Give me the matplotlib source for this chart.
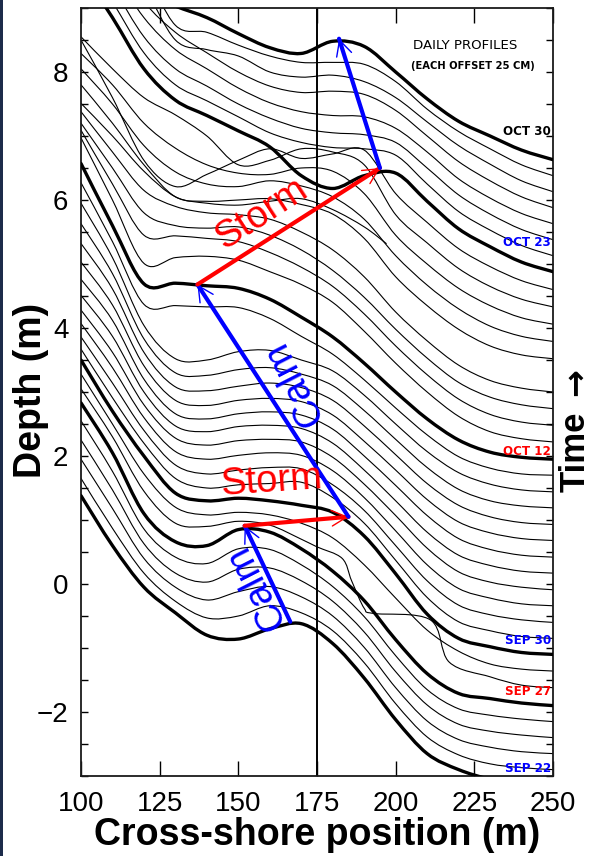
import numpy as np
import matplotlib
matplotlib.use("Agg")
import matplotlib.pyplot as plt
from matplotlib.patches import Rectangle, PathPatch
from matplotlib.path import Path

# ---------------- data ----------------
# cross-shore grid (m)
x_grid = [100, 110, 120, 130, 140, 150, 160, 170, 180, 190, 200, 210, 220, 230, 240, 250]
# daily profile dates (one per day, Sep 22 ... Oct 30)
dates = ["SEP 22", "SEP 23", "SEP 24", "SEP 25", "SEP 26", "SEP 27", "SEP 28", "SEP 29",
         "SEP 30", "OCT 1", "OCT 2", "OCT 3", "OCT 4", "OCT 5", "OCT 6", "OCT 7", "OCT 8",
         "OCT 9", "OCT 10", "OCT 11", "OCT 12", "OCT 13", "OCT 14", "OCT 15", "OCT 16",
         "OCT 17", "OCT 18", "OCT 19", "OCT 20", "OCT 21", "OCT 22", "OCT 23", "OCT 24",
         "OCT 25", "OCT 26", "OCT 27", "OCT 28", "OCT 29", "OCT 30"]
offset_per_day = 0.25  # m

# bed elevation (m) of each daily profile, before the 25 cm offset
sep22 = [1.38, 0.60, -0.05, -0.45, -0.80, -0.86, -0.70, -0.62, -0.93, -1.47, -2.12, -2.65, -2.90, -3.05, -3.12, -3.15]
sep23 = [1.40, 0.62, -0.08, -0.52, -0.78, -0.75, -0.59, -0.70, -0.98, -1.48, -2.12, -2.64, -2.92, -3.06, -3.12, -3.15]
sep24 = [1.45, 0.68, -0.10, -0.55, -0.75, -0.62, -0.54, -0.70, -1.00, -1.49, -2.12, -2.64, -2.93, -3.05, -3.12, -3.15]
sep25 = [1.50, 0.72, -0.12, -0.58, -0.72, -0.52, -0.50, -0.70, -1.02, -1.50, -2.12, -2.64, -2.94, -3.05, -3.11, -3.15]
sep26 = [1.55, 0.76, -0.14, -0.58, -0.68, -0.45, -0.46, -0.70, -1.04, -1.51, -2.12, -2.65, -2.95, -3.05, -3.11, -3.15]
sep27 = [1.58, 0.80, -0.15, -0.59, -0.65, -0.40, -0.44, -0.70, -1.05, -1.51, -2.12, -2.65, -2.96, -3.04, -3.11, -3.15]
sep28_x = [100, 110, 120, 130, 140, 150, 160, 170, 175, 183, 186, 190, 193, 211, 217, 230, 240, 250]
sep28 = [1.55, 0.80, -0.05, -0.55, -0.60, -0.52, -0.58, -0.80, -0.92, -1.10, -1.45, -1.88, -1.96, -2.06, -2.72, -2.95, -3.08, -3.12]
sep29 = [1.53, 0.75, -0.03, -0.55, -0.67, -0.63, -0.67, -0.80, -1.03, -1.45, -1.97, -2.47, -2.80, -3.00, -3.08, -3.11]
sep30 = [1.50, 0.70, 0.00, -0.58, -0.70, -0.66, -0.70, -0.77, -0.88, -1.25, -1.84, -2.47, -2.85, -2.98, -3.07, -3.10]
oct01 = [1.42, 0.66, -0.05, -0.60, -0.75, -0.70, -0.68, -0.66, -0.90, -1.30, -1.88, -2.46, -2.84, -2.98, -3.07, -3.10]
oct02 = [1.36, 0.64, -0.10, -0.64, -0.78, -0.72, -0.68, -0.70, -0.95, -1.35, -1.90, -2.45, -2.83, -2.98, -3.06, -3.10]
oct03 = [1.32, 0.63, -0.15, -0.68, -0.80, -0.74, -0.70, -0.74, -0.98, -1.40, -1.92, -2.45, -2.82, -2.97, -3.06, -3.09]
oct04 = [1.28, 0.62, -0.20, -0.72, -0.83, -0.76, -0.74, -0.78, -1.02, -1.44, -1.93, -2.44, -2.81, -2.97, -3.05, -3.09]
oct05 = [1.26, 0.62, -0.25, -0.78, -0.87, -0.79, -0.77, -0.82, -1.05, -1.47, -1.95, -2.44, -2.80, -2.96, -3.05, -3.08]
oct06 = [1.26, 0.62, -0.30, -0.84, -0.92, -0.84, -0.81, -0.86, -1.08, -1.50, -1.96, -2.43, -2.79, -2.96, -3.05, -3.08]
oct07 = [1.28, 0.61, -0.34, -0.88, -0.96, -0.88, -0.85, -0.90, -1.11, -1.52, -1.97, -2.43, -2.78, -2.95, -3.04, -3.07]
oct08 = [1.32, 0.61, -0.38, -0.92, -0.98, -0.91, -0.86, -0.93, -1.13, -1.53, -1.98, -2.43, -2.77, -2.95, -3.04, -3.07]
oct09 = [1.38, 0.60, -0.42, -0.95, -0.99, -0.90, -0.87, -0.97, -1.15, -1.54, -1.99, -2.43, -2.77, -2.95, -3.03, -3.06]
oct10 = [1.45, 0.60, -0.46, -0.98, -1.00, -0.87, -0.85, -1.00, -1.17, -1.55, -2.00, -2.43, -2.76, -2.94, -3.03, -3.06]
oct11 = [1.52, 0.60, -0.38, -0.40, -0.42, -0.43, -0.60, -0.88, -1.16, -1.56, -2.00, -2.42, -2.76, -2.94, -3.03, -3.05]
oct12 = [1.57, 0.60, -0.31, -0.30, -0.34, -0.38, -0.55, -0.83, -1.14, -1.55, -2.00, -2.42, -2.75, -2.94, -3.02, -3.05]
oct13 = [1.72, 0.75, -0.24, -0.15, -0.13, -0.19, -0.37, -0.57, -0.85, -1.30, -1.80, -2.25, -2.63, -2.87, -2.98, -3.03]
oct14 = [1.59, 0.75, -0.05, -0.06, -0.10, -0.15, -0.32, -0.55, -0.85, -1.28, -1.78, -2.23, -2.61, -2.85, -2.97, -3.02]
oct15 = [1.45, 0.75, 0.05, -0.15, -0.19, -0.17, -0.30, -0.53, -0.85, -1.27, -1.77, -2.22, -2.60, -2.83, -2.95, -3.01]
oct16 = [1.38, 0.75, 0.15, -0.10, -0.20, -0.23, -0.30, -0.50, -0.78, -1.20, -1.75, -2.20, -2.58, -2.82, -2.94, -3.00]
oct17_x = [100, 110, 120, 130, 140, 150, 160, 170, 180, 190, 197]
oct17 = [1.26, 0.75, 0.20, -0.20, -0.30, -0.33, -0.27, -0.23, -0.40, -0.67, -0.93]
oct18 = [1.30, 0.70, 0.05, -0.45, -0.52, -0.50, -0.48, -0.57, -0.72, -1.10, -1.70, -2.15, -2.52, -2.78, -2.92, -2.98]
oct19 = [1.30, 0.75, 0.10, -0.31, -0.50, -0.54, -0.45, -0.53, -0.70, -1.05, -1.62, -2.08, -2.45, -2.72, -2.88, -2.96]
oct20 = [1.29, 0.80, 0.20, -0.19, -0.45, -0.58, -0.60, -0.50, -0.55, -0.90, -1.55, -2.00, -2.38, -2.65, -2.84, -2.94]
oct21 = [1.30, 0.80, 0.35, 0.08, -0.25, -0.70, -0.63, -0.45, -0.50, -0.70, -1.48, -1.92, -2.32, -2.60, -2.80, -2.92]
oct22 = [1.00, 0.10, -0.88, -1.29, -1.10, -0.88, -0.70, -0.85, -0.78, -0.72, -1.40, -1.85, -2.26, -2.54, -2.76, -2.90]
oct23 = [1.85, 1.10, 0.30, -0.19, -0.43, -0.67, -0.92, -1.37, -1.57, -1.37, -1.33, -1.77, -2.20, -2.48, -2.72, -2.87]
oct24 = [1.90, 1.10, 0.30, -0.20, -0.45, -0.70, -0.95, -1.10, -1.18, -1.20, -1.30, -1.75, -2.18, -2.47, -2.71, -2.87]
oct25 = [1.95, 1.10, 0.30, -0.20, -0.47, -0.75, -0.97, -1.13, -1.20, -1.23, -1.35, -1.75, -2.17, -2.47, -2.71, -2.87]
oct26 = [1.90, 1.10, 0.35, -0.15, -0.45, -0.75, -0.98, -1.12, -1.18, -1.20, -1.38, -1.75, -2.17, -2.47, -2.71, -2.87]
oct27 = [1.85, 1.10, 0.35, -0.13, -0.45, -0.75, -0.97, -1.07, -1.05, -1.10, -1.35, -1.75, -2.15, -2.45, -2.70, -2.87]
oct28 = [1.80, 1.10, 0.35, -0.50, -0.65, -0.75, -1.00, -1.08, -1.05, -1.15, -1.40, -1.78, -2.15, -2.44, -2.70, -2.87]
oct29 = [1.75, 1.05, 0.35, -0.52, -0.63, -0.83, -1.00, -1.10, -1.10, -1.13, -1.40, -1.83, -2.18, -2.45, -2.70, -2.87]
oct30 = [0.40, 0.00, -0.25, -0.47, -0.65, -0.90, -1.12, -1.21, -1.02, -1.10, -1.50, -1.92, -2.27, -2.50, -2.72, -2.87]

profiles = [sep22, sep23, sep24, sep25, sep26, sep27, sep28, sep29, sep30,
            oct01, oct02, oct03, oct04, oct05, oct06, oct07, oct08, oct09, oct10, oct11,
            oct12, oct13, oct14, oct15, oct16, oct17, oct18, oct19, oct20, oct21, oct22,
            oct23, oct24, oct25, oct26, oct27, oct28, oct29, oct30]
profile_x = {"SEP 28": sep28_x, "OCT 17": oct17_x}

# highlighted profiles and their label colours
highlight_dates = ["SEP 22", "SEP 27", "SEP 30", "OCT 12", "OCT 23", "OCT 30"]
highlight_colors = ["#0000ff", "#ff0000", "#0000ff", "#ff0000", "#0000ff", "#000000"]
highlight_label_y = [-2.88, -1.68, -0.89, 2.07, 5.33, 7.07]

# bar-crest migration arrows: (start, end) in (x, depth) and colours
arrow_x0 = [166.5, 152.0, 185.0, 137.0, 195.0]
arrow_y0 = [-0.59, 0.91, 1.05, 4.68, 6.50]
arrow_x1 = [152.0, 185.0, 137.0, 195.0, 182.0]
arrow_y1 = [0.91, 1.05, 4.68, 6.50, 8.52]
arrow_colors = ["#0000ff", "#ff0000", "#0000ff", "#ff0000", "#0000ff"]


def smooth_path(xs, ys):
    """Smooth curve through every data point (Catmull-Rom drawn as cubic Bezier)."""
    p = np.column_stack([xs, ys]).astype(float)
    n = len(p)
    verts = [p[0]]
    codes = [Path.MOVETO]
    for i in range(n - 1):
        p0 = p[i - 1] if i > 0 else p[i]
        p1, p2 = p[i], p[i + 1]
        p3 = p[i + 2] if i + 2 < n else p[i + 1]
        c1 = p1 + (p2 - p0) / 6.0
        c2 = p2 - (p3 - p1) / 6.0
        verts += [c1, c2, p2]
        codes += [Path.CURVE4] * 3
    return Path(verts, codes)


# ---------------- plot ----------------
W, H = 595, 856
fig = plt.figure(figsize=(W / 100, H / 100), dpi=100)
fig.patch.set_facecolor("white")
fig.patches.append(Rectangle((0, 0), 3 / W, 1, transform=fig.transFigure,
                             facecolor="#1c2b4a", edgecolor="none", zorder=10))

ax = fig.add_axes([81 / W, 80 / H, 472 / W, 768 / H])
ax.set_xlim(100, 250)
ax.set_ylim(-3, 9)

for i, (d, z) in enumerate(zip(dates, profiles)):
    xs = profile_x.get(d, x_grid)
    y = np.array(z) + offset_per_day * i
    thick = d in highlight_dates
    patch = PathPatch(smooth_path(xs, y), facecolor="none", edgecolor="black",
                      lw=2.4 if thick else 0.8, capstyle="round", joinstyle="round",
                      zorder=3 if thick else 2)
    ax.add_patch(patch)

ax.axvline(175, color="black", lw=1.4, zorder=2)

for d, c, ly in zip(highlight_dates, highlight_colors, highlight_label_y):
    ax.text(249.3, ly, d, color=c, fontsize=8.6, ha="right", va="center",
            family="DejaVu Sans", fontweight="bold", zorder=5)

ax.text(222, 8.42, "DAILY PROFILES", fontsize=9.6, ha="center", va="center",
        family="DejaVu Sans")
ax.text(224.5, 8.10, "(EACH OFFSET 25 CM)", fontsize=7.2, ha="center", va="center",
        family="DejaVu Sans", fontweight="bold")

for x0, y0, x1, y1, c in zip(arrow_x0, arrow_y0, arrow_x1, arrow_y1, arrow_colors):
    ax.annotate("", xy=(x1, y1), xytext=(x0, y0),
                arrowprops=dict(arrowstyle="-", color=c, lw=3,
                                shrinkA=0, shrinkB=0), zorder=6)
    ax.annotate("", xy=(x1, y1), xytext=(x0, y0),
                arrowprops=dict(arrowstyle="->,head_length=0.55,head_width=0.28",
                                color=c, lw=1.0, mutation_scale=20,
                                shrinkA=0, shrinkB=0), zorder=6)

tfont = "Liberation Sans"
ax.text(160.5, 1.60, "Storm", color="#ff0000", fontsize=27.5, family=tfont,
        ha="center", va="center", rotation=4, zorder=7)
ax.text(157.5, 5.78, "Storm", color="#ff0000", fontsize=27.5, family=tfont,
        ha="center", va="center", rotation=33, zorder=7)
ax.text(167.5, 3.15, "Calm", color="#0000ff", fontsize=27.5, family=tfont,
        ha="center", va="center", rotation=117, zorder=7)
ax.text(155.5, -0.05, "Calm", color="#0000ff", fontsize=27.5, family=tfont,
        ha="center", va="center", rotation=117, zorder=7)

ax.set_xticks([100, 125, 150, 175, 200, 225, 250])
ax.set_yticks([-2, 0, 2, 4, 6, 8])
ax.set_yticks(np.arange(-3, 9.01, 0.5), minor=True)
ax.tick_params(axis="x", which="major", direction="in", top=True, bottom=True,
               length=11, width=1.0, labelsize=20, pad=11)
ax.tick_params(axis="y", which="both", direction="in", left=True, right=True,
               length=5, width=1.0, labelsize=20, pad=9)
ax.set_yticklabels(["\u22122", "0", "2", "4", "6", "8"])
for lab in ax.get_xticklabels() + ax.get_yticklabels():
    lab.set_family(tfont)
for s in ax.spines.values():
    s.set_linewidth(1.3)
    s.set_color("#1a1a1a")

ax.set_xlabel("Cross-shore position (m)", fontsize=27, fontweight="bold",
              family=tfont, labelpad=0)
fig.text(31 / W, 1 - 390 / H, "Depth (m)", rotation=90, fontsize=27,
         fontweight="bold", family=tfont, ha="center", va="center")
fig.text(575 / W, 1 - 452 / H, "Time", rotation=90, fontsize=25,
         fontweight="bold", family=tfont, ha="center", va="center")
fig.text(575 / W, 1 - 382 / H, "\u2192", rotation=90, fontsize=24,
         fontweight="bold", family="DejaVu Sans", ha="center", va="center")

fig.savefig("out.png", dpi=100)
